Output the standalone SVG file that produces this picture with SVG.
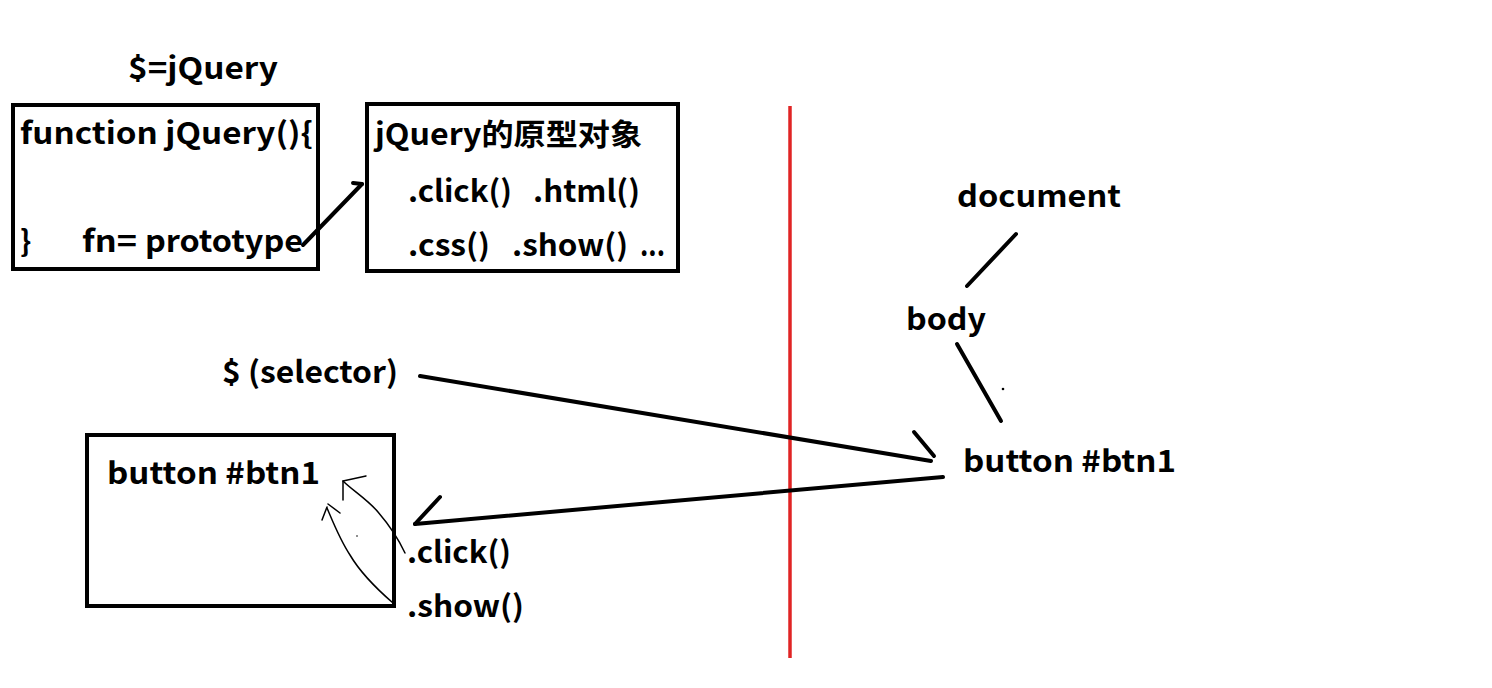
<svg xmlns="http://www.w3.org/2000/svg" width="1492" height="688" viewBox="0 0 1492 688">
<style>
text{font-family:"Noto Sans CJK SC","Open Sans",sans-serif;font-weight:bold;font-size:30px;fill:#000}
.box{fill:none;stroke:#000;stroke-width:4}
.ln{fill:none;stroke:#000;stroke-width:4;stroke-linecap:round}
.thin{fill:none;stroke:#000;stroke-width:1.5;stroke-linecap:round}
</style>
<rect width="1492" height="688" fill="#fff"/>
<g id="title"><text x="128" y="79" textLength="150" lengthAdjust="spacingAndGlyphs">$=jQuery</text></g>
<g id="jquery-function">
<rect class="box" x="13" y="105" width="305" height="164"/>
<text x="20" y="144" textLength="293" lengthAdjust="spacingAndGlyphs">function jQuery(){</text>
<text x="20" y="252">}</text>
<text x="82" y="252" textLength="55" lengthAdjust="spacingAndGlyphs">fn=</text>
<text x="145" y="252" textLength="158" lengthAdjust="spacingAndGlyphs">prototype</text>
</g>
<g id="prototype-object">
<rect class="box" x="367" y="104" width="311" height="167"/>
<text x="375" y="145" textLength="267" lengthAdjust="spacingAndGlyphs">jQuery的原型对象</text>
<text x="408" y="202" textLength="104" lengthAdjust="spacingAndGlyphs">.click()</text>
<text x="533" y="202" textLength="107" lengthAdjust="spacingAndGlyphs">.html()</text>
<text x="408" y="256" textLength="82" lengthAdjust="spacingAndGlyphs">.css()</text>
<text x="512" y="256" textLength="116" lengthAdjust="spacingAndGlyphs">.show()</text>
<text x="640" y="256" textLength="25" lengthAdjust="spacingAndGlyphs">...</text>
</g>
<g id="divider"><line x1="790" y1="106" x2="790" y2="658" stroke="#e02424" stroke-width="3.5"/></g>
<g id="document"><text x="957" y="207" textLength="164" lengthAdjust="spacingAndGlyphs">document</text></g>
<g id="body"><text x="906" y="330" textLength="80" lengthAdjust="spacingAndGlyphs">body</text></g>
<g id="dom-button"><text x="963" y="472" textLength="213" lengthAdjust="spacingAndGlyphs">button #btn1</text></g>
<g id="selector"><text x="222" y="383" textLength="176" lengthAdjust="spacingAndGlyphs">$ (selector)</text></g>
<g id="jq-button">
<rect class="box" x="87" y="435" width="307" height="171"/>
<text x="107" y="484" textLength="213" lengthAdjust="spacingAndGlyphs">button #btn1</text>
</g>
<g id="click"><text x="407" y="563" textLength="104" lengthAdjust="spacingAndGlyphs">.click()</text></g>
<g id="show"><text x="407" y="617" textLength="117" lengthAdjust="spacingAndGlyphs">.show()</text></g>
<g id="connectors">
<polyline class="ln" points="303,245 362,184"/>
<polyline class="ln" points="353,183 362,184"/>
<line class="ln" x1="1016" y1="234" x2="967" y2="286"/>
<line class="ln" x1="957" y1="344" x2="1001" y2="421"/>
<circle cx="1003" cy="389" r="1.3" fill="#000"/>
<line class="ln" x1="420" y1="376" x2="931" y2="461"/>
<line class="ln" x1="914" y1="432" x2="934" y2="456"/>
<line class="ln" x1="943" y1="477" x2="415" y2="524"/>
<line class="ln" x1="415" y1="524" x2="440" y2="497"/>
<path class="thin" d="M405,553 C398,538 390,526 378,512 C368,500 352,490 343,481"/>
<path class="thin" d="M343,481 L343,500 M343,481 L366,476"/>
<path class="thin" d="M393,603 C378,590 360,572 350,555 C340,540 333,522 327,508"/>
<path class="thin" d="M322,520 L327,507 M328,504 L340,513"/>
<circle cx="357" cy="536" r="0.8" fill="#000"/>
</g>
</svg>
